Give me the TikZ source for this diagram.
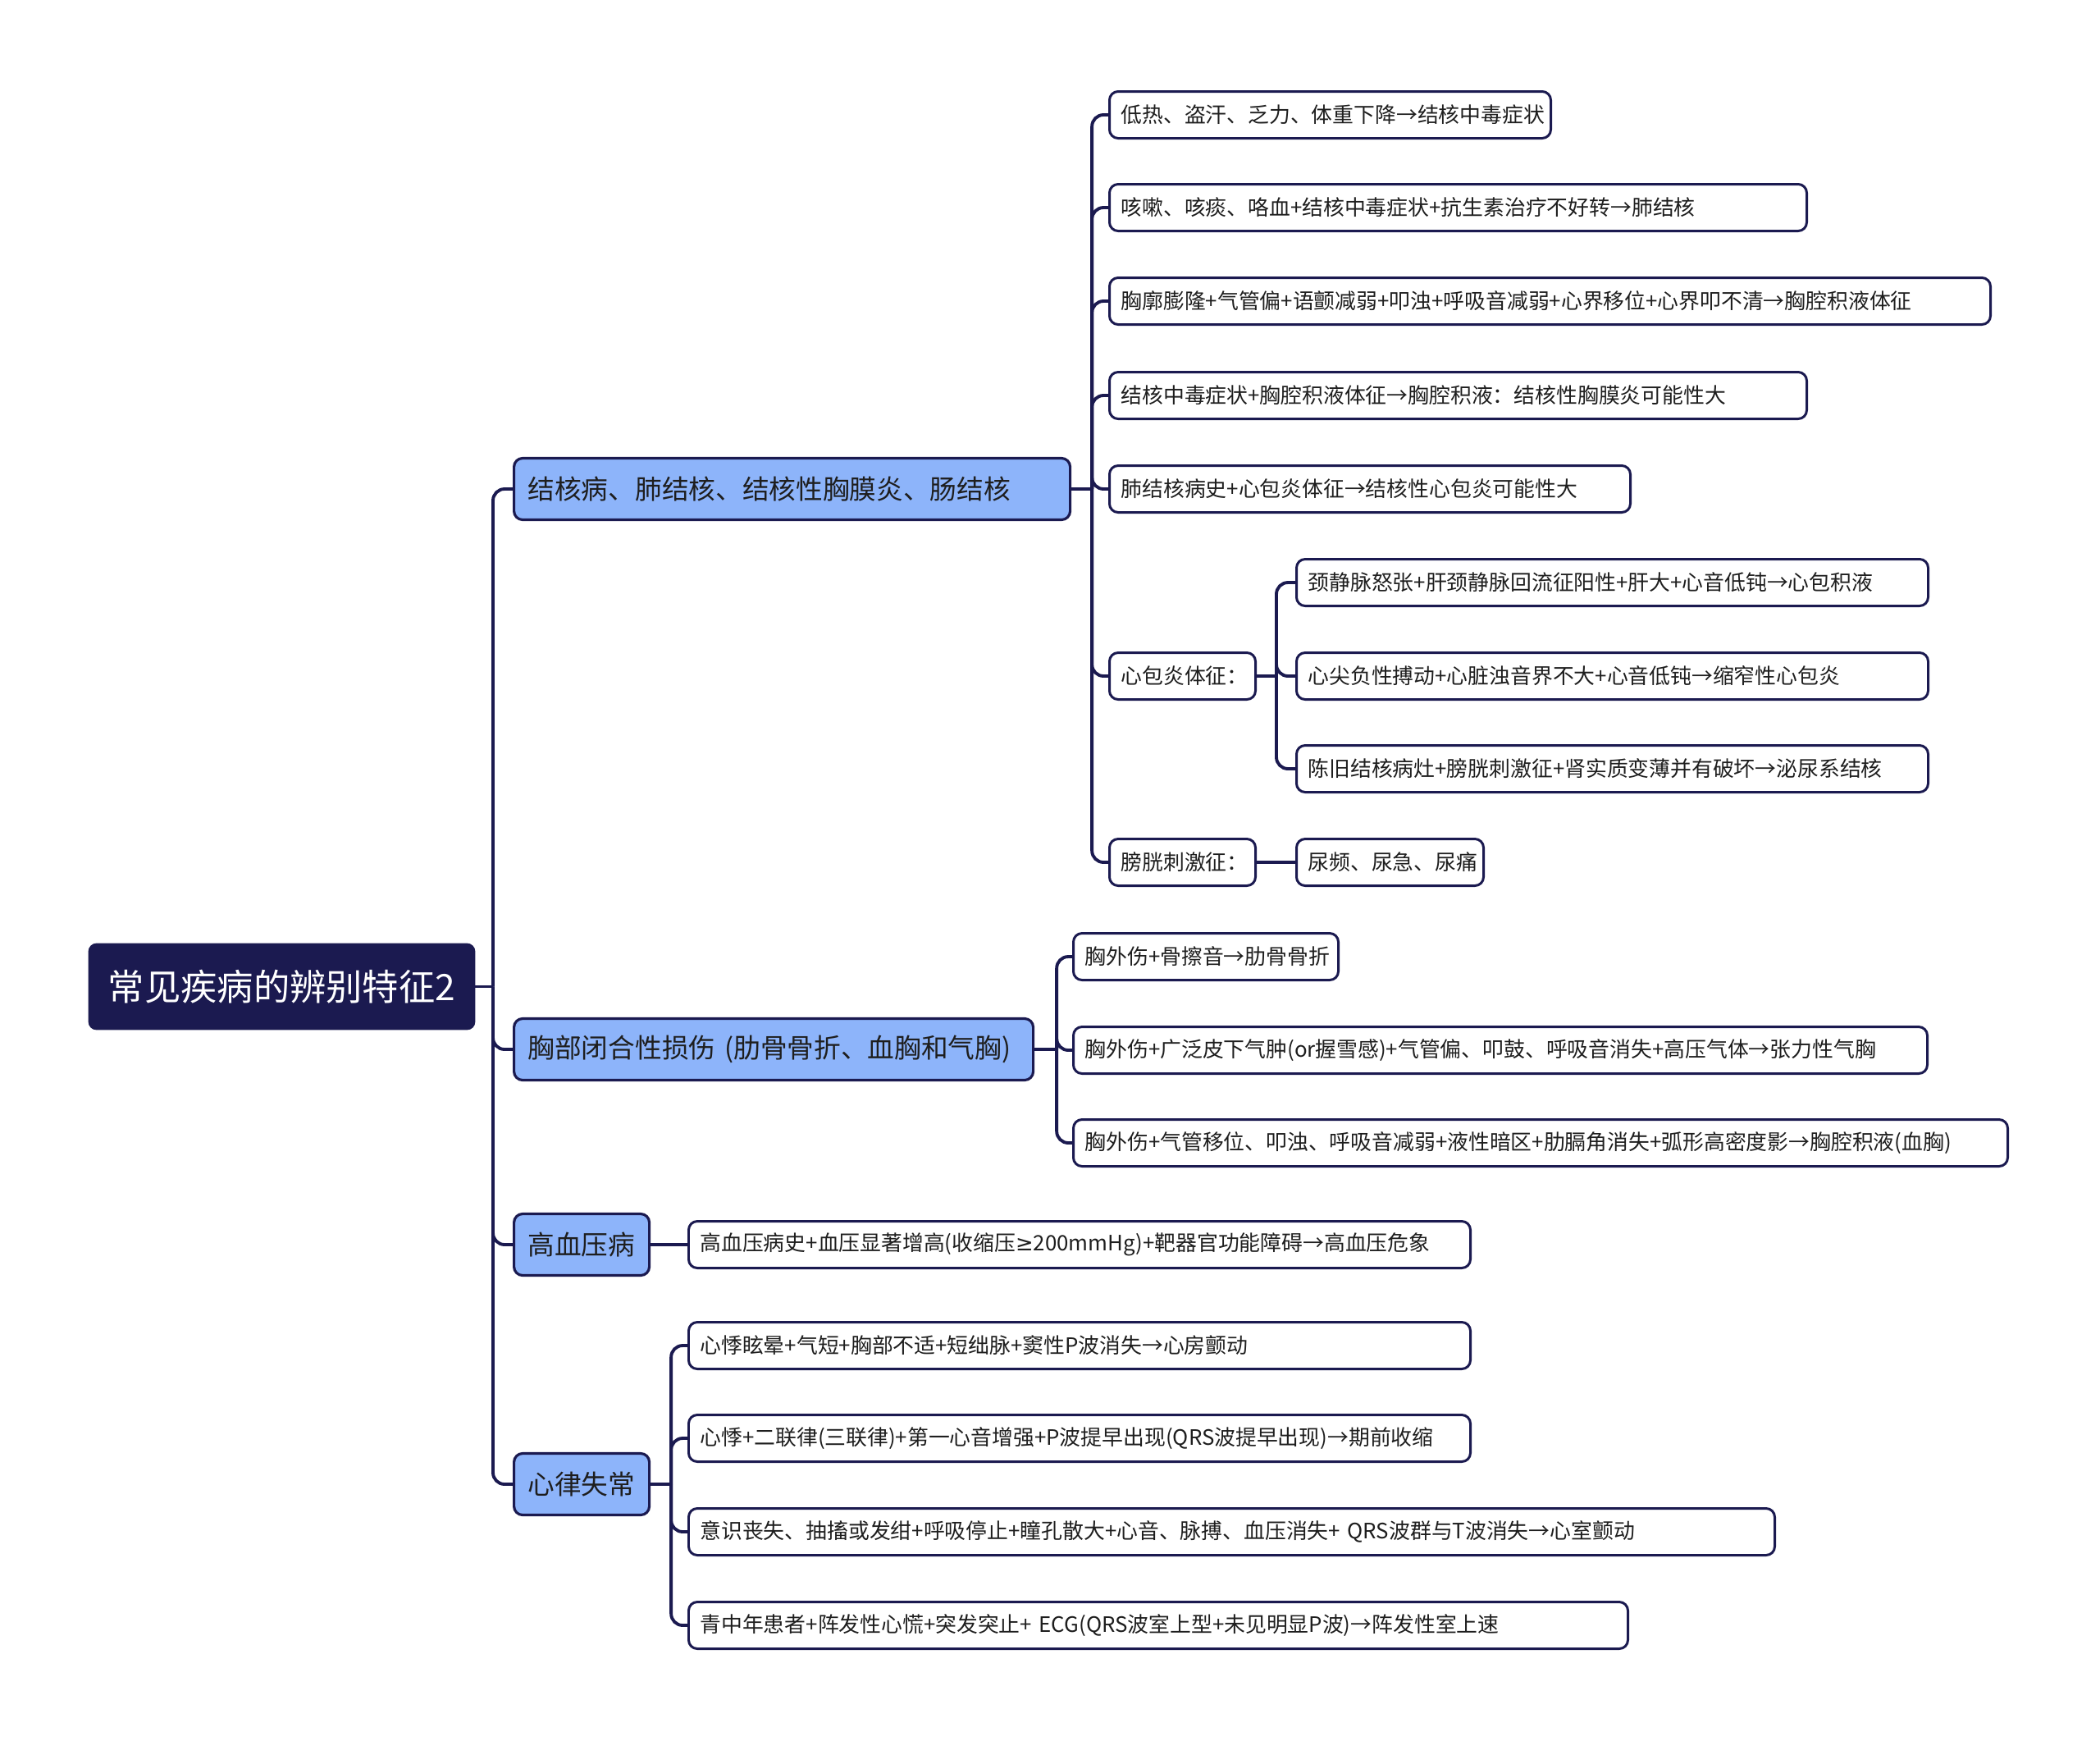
\documentclass[tikz,border=0pt]{standalone}
\usepackage{fontspec}
\newfontfamily\cjk{Noto Sans CJK SC}
\newfontfamily\symfont{DejaVu Sans}
\usetikzlibrary{positioning}

\definecolor{navy}{HTML}{1B1A50}
\definecolor{topicblue}{HTML}{8DB4FA}
\definecolor{ink}{HTML}{1E1E1E}

\tikzset{
  root/.style={draw=navy, fill=navy, text=white, rounded corners=2.5pt, line width=0.8pt,
    minimum width=4.69cm, minimum height=1.03cm, inner sep=0pt,
    font=\cjk\fontsize{12.6}{15}\selectfont},
  topic/.style={draw=navy, fill=topicblue, text=ink, rounded corners=3pt, line width=0.9pt,
    minimum height=0.75cm, inner xsep=0.17cm, inner ysep=0pt, text width=#1, anchor=west,
    font=\cjk\fontsize{9.3}{11}\selectfont},
  leaf/.style={draw=navy, fill=white, text=ink, rounded corners=3pt, line width=0.85pt,
    minimum height=0.57cm, inner xsep=0.14cm, inner ysep=0pt, text width=#1, anchor=west,
    font=\cjk\fontsize{7.35}{9}\selectfont},
  link/.style={draw=navy, line width=1.1pt, rounded corners=4pt},
}

\begin{document}
\begin{tikzpicture}
  \useasboundingbox (0,0) rectangle (25.6,-21.21);

  % root and main topics
  \node[root] (root) at (3.435,-12.025) {常见疾病的辨别特征2};
  \coordinate (trunk) at (6.01,-12.025);

  \node[topic=6.44cm] (tb) at (6.25,-5.96) {结核病、肺结核、结核性胸膜炎、肠结核};
  \node[topic=5.99cm] (chest) at (6.25,-12.79) {胸部闭合性损伤 (肋骨骨折、血胸和气胸)};
  \node[topic=1.31cm] (htn) at (6.25,-15.17) {高血压病};
  \node[topic=1.31cm] (arr) at (6.25,-18.09) {心律失常};

  % tuberculosis
  \node[leaf=5.10cm] (t1) at (13.51,-1.40) {低热、盗汗、乏力、体重下降→结核中毒症状};
  \node[leaf=8.22cm] (t2) at (13.51,-2.53) {咳嗽、咳痰、咯血+结核中毒症状+抗生素治疗不好转→肺结核};
  \node[leaf=10.46cm] (t3) at (13.51,-3.67) {胸廓膨隆+气管偏+语颤减弱+叩浊+呼吸音减弱+心界移位+心界叩不清→胸腔积液体征};
  \node[leaf=8.22cm] (t4) at (13.51,-4.82) {结核中毒症状+胸腔积液体征→胸腔积液：结核性胸膜炎可能性大};
  \node[leaf=6.07cm] (t5) at (13.51,-5.96) {肺结核病史+心包炎体征→结核性心包炎可能性大};
  \node[leaf=1.50cm] (t6) at (13.51,-8.24) {心包炎体征：};
  \node[leaf=1.50cm] (t7) at (13.51,-10.51) {膀胱刺激征：};

  \node[leaf=7.42cm] (p1) at (15.79,-7.10) {颈静脉怒张+肝颈静脉回流征阳性+肝大+心音低钝→心包积液};
  \node[leaf=7.42cm] (p2) at (15.79,-8.24) {心尖负性搏动+心脏浊音界不大+心音低钝→缩窄性心包炎};
  \node[leaf=7.42cm] (p3) at (15.79,-9.37) {陈旧结核病灶+膀胱刺激征+肾实质变薄并有破坏→泌尿系结核};
  \node[leaf=2.00cm] (u1) at (15.79,-10.51) {尿频、尿急、尿痛};

  % chest injury
  \node[leaf=2.95cm] (h1) at (13.07,-11.66) {胸外伤+骨擦音→肋骨骨折};
  \node[leaf=10.13cm] (h2) at (13.07,-12.80) {胸外伤+广泛皮下气肿(or握雪感)+气管偏、叩鼓、呼吸音消失+高压气体→张力性气胸};
  \node[leaf=11.11cm] (h3) at (13.07,-13.93) {胸外伤+气管移位、叩浊、呼吸音减弱+液性暗区+肋膈角消失+弧形高密度影→胸腔积液(血胸)};

  % hypertension
  \node[leaf=9.25cm] (e1) at (8.38,-15.17) {高血压病史+血压显著增高(收缩压{\symfont ≥}200mmHg)+靶器官功能障碍→高血压危象};

  % arrhythmia
  \node[leaf=9.25cm] (d1) at (8.38,-16.40) {心悸眩晕+气短+胸部不适+短绌脉+窦性P波消失→心房颤动};
  \node[leaf=9.25cm] (d2) at (8.38,-17.53) {心悸+二联律(三联律)+第一心音增强+P波提早出现(QRS波提早出现)→期前收缩};
  \node[leaf=12.96cm] (d3) at (8.38,-18.67) {意识丧失、抽搐或发绀+呼吸停止+瞳孔散大+心音、脉搏、血压消失+ QRS波群与T波消失→心室颤动};
  \node[leaf=11.17cm] (d4) at (8.38,-19.81) {青中年患者+阵发性心慌+突发突止+ ECG(QRS波室上型+未见明显P波)→阵发性室上速};

  % connectors
  \draw[link] (root.east) -- (trunk);
  \foreach \t in {tb,chest,htn,arr}
    \draw[link] (trunk) |- (\t.west);

  \coordinate[right=0.25cm of tb.east] (tbbus);
  \draw[link] (tb.east) -- (tbbus);
  \foreach \c in {t1,t2,t3,t4,t5,t6,t7}
    \draw[link] (tbbus) |- (\c.west);

  \coordinate[right=0.24cm of t6.east] (pbus);
  \draw[link] (t6.east) -- (pbus);
  \foreach \c in {p1,p2,p3}
    \draw[link] (pbus) |- (\c.west);
  \draw[link] (t7.east) -- (u1.west);

  \coordinate[right=0.27cm of chest.east] (hbus);
  \draw[link] (chest.east) -- (hbus);
  \foreach \c in {h1,h2,h3}
    \draw[link] (hbus) |- (\c.west);

  \draw[link] (htn.east) -- (e1.west);

  \coordinate[right=0.25cm of arr.east] (dbus);
  \draw[link] (arr.east) -- (dbus);
  \foreach \c in {d1,d2,d3,d4}
    \draw[link] (dbus) |- (\c.west);
\end{tikzpicture}
\end{document}
